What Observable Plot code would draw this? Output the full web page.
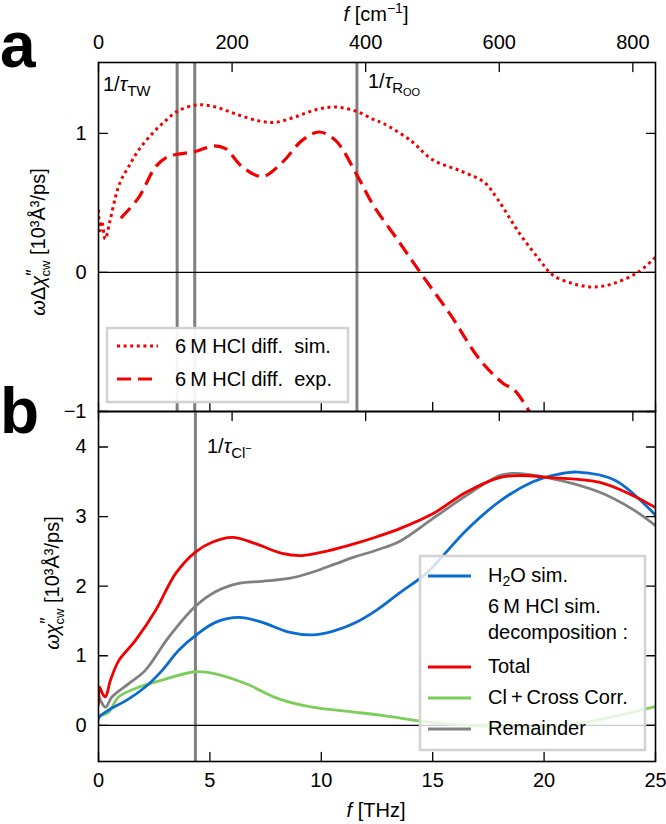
<!DOCTYPE html>
<html><head><meta charset="utf-8">
<script src="https://cdn.jsdelivr.net/npm/d3@7"></script>
<script src="https://cdn.jsdelivr.net/npm/@observablehq/plot@0.6"></script>
<style>
body{margin:0;background:#fff;}
#wrap{position:relative;width:666px;height:824px;font-family:"Liberation Sans",Arial,sans-serif;}
#wrap svg{position:absolute;left:0;overflow:visible;}
</style></head><body><div id="wrap"></div>
<script>
// ---- data ----
const CM_PER_THZ = 33.356;
const xTicksTHz = [0, 5, 10, 15, 20, 25];
const cmTicks = [0, 200, 400, 600, 800];
const yTicksA = [-1, 0, 1];
const yTicksB = [0, 1, 2, 3, 4];
const tauA = [3.53, 4.32, 11.6];   // THz, vertical markers panel a
const tauB = [4.35];               // THz, vertical marker panel b

// panel a  [f THz, value]
const simDiff = [[0,0.45],[0.07,0.30],[0.15,0.37],[0.3,0.24],[0.5,0.36],[0.76,0.54],[1.0,0.66],[1.35,0.76],[1.8,0.88],[2.42,1.0],[3.0,1.09],[3.55,1.16],[4.4,1.205],[5.25,1.19],[6.15,1.14],[7.2,1.09],[7.95,1.08],[8.85,1.12],[9.75,1.17],[10.6,1.19],[11.55,1.16],[12.35,1.10],[12.8,1.07],[14.0,0.95],[15.0,0.81],[16.25,0.73],[17.3,0.65],[17.9,0.53],[18.9,0.28],[19.8,0.09],[20.4,-0.02],[21.3,-0.08],[22.2,-0.105],[23.1,-0.08],[24.2,0],[25,0.11]];
const expDiff = [[1.0,0.39],[1.81,0.54],[2.56,0.76],[3.08,0.83],[3.53,0.85],[4.35,0.87],[5.17,0.91],[5.7,0.89],[6.45,0.76],[7.35,0.69],[8.24,0.79],[9.14,0.95],[9.89,1.01],[10.64,0.95],[11.6,0.70],[12.35,0.48],[13.4,0.24],[14.44,0],[15.78,-0.30],[17.13,-0.63],[18.18,-0.80],[18.63,-0.84],[19.3,-0.99],[19.5,-1.05]];

// panel b
const h2oSim = [[0,0.10],[0.09,0.14],[0.46,0.22],[1.36,0.38],[2.1,0.55],[2.86,0.79],[3.6,1.08],[4.35,1.29],[5.25,1.48],[6.3,1.55],[7.35,1.48],[8.54,1.34],[9.6,1.30],[10.5,1.35],[11.5,1.47],[12.5,1.66],[13.5,1.90],[14.7,2.18],[15.5,2.45],[16.5,2.80],[18.05,3.23],[19.5,3.50],[20.5,3.60],[21.5,3.64],[23.2,3.52],[25,3.02]];
const total = [[0,0.30],[0.05,0.55],[0.17,0.46],[0.31,0.41],[0.54,0.65],[0.91,0.93],[1.66,1.22],[2.56,1.65],[3.46,2.18],[4.35,2.49],[5.1,2.63],[6.0,2.70],[7.05,2.61],[8.24,2.47],[9.14,2.44],[10.34,2.51],[11.5,2.61],[12.5,2.71],[13.55,2.83],[15.0,3.04],[16.5,3.35],[18.0,3.56],[18.9,3.59],[20.3,3.56],[22.5,3.49],[24.0,3.30],[25,3.13]];
const clCross = [[0,-0.6],[0.02,0.12],[0.2,0.15],[0.46,0.19],[0.91,0.41],[1.66,0.53],[2.86,0.65],[4.35,0.77],[5.25,0.74],[6.6,0.60],[8.1,0.38],[9.6,0.26],[11.5,0.19],[12.8,0.14],[15,0.04],[17.3,-0.01],[19.5,-0.03],[21.8,0.04],[25,0.27]];
const remainder = [[0,0.45],[0.09,0.36],[0.31,0.26],[0.61,0.41],[1.36,0.60],[2.1,0.79],[3.16,1.27],[4.35,1.71],[5.25,1.92],[6.3,2.04],[7.35,2.07],[8.54,2.11],[9.6,2.20],[10.64,2.32],[11.5,2.42],[12.5,2.52],[13.55,2.65],[15.0,2.97],[16.5,3.30],[18.0,3.59],[18.6,3.62],[20.3,3.55],[22.5,3.35],[24,3.10],[25,2.87]];

// ---- styles ----
const RED = "#f20000", BLUE = "#0a6cd0", GREEN = "#7ccd5c", GRAY = "#808080";
const FONT = "'Liberation Sans', Arial, Helvetica, sans-serif";
const FS = 20;
const styA = {
  sim: {stroke: RED, strokeWidth: 3, strokeDasharray: "3 3.6", strokeLinecap: "butt"},
  exp: {stroke: RED, strokeWidth: 3.2, strokeDasharray: "14 7", strokeLinecap: "butt"}
};
const styB = {
  h2o: {stroke: BLUE, strokeWidth: 2.8},
  total: {stroke: RED, strokeWidth: 2.8},
  cl: {stroke: GREEN, strokeWidth: 2.8},
  rem: {stroke: GRAY, strokeWidth: 2.8}
};
const fmt = d => (d < 0 ? "\u2212" + Math.abs(d) : String(d));

const W = 666, ML = 98, MR = 11;
const xy = {x: d => d[0], y: d => d[1], curve: "catmull-rom", clip: true};
const tickOpts = {length: 9, anchor: "start", r: 0, strokeWidth: 1.3, stroke: "#000"};

function frameTicks(yTicks) {
  return [
    Plot.vector(xTicksTHz, {x: d => d, frameAnchor: "bottom", rotate: 0, ...tickOpts}),
    Plot.vector(cmTicks, {x: d => d / CM_PER_THZ, frameAnchor: "top", rotate: 180, ...tickOpts}),
    Plot.vector(yTicks, {y: d => d, frameAnchor: "left", rotate: 90, ...tickOpts}),
    Plot.vector(yTicks, {y: d => d, frameAnchor: "right", rotate: -90, ...tickOpts})
  ];
}
const plotStyle = {fontFamily: FONT, fontSize: FS + "px", color: "#000", background: "transparent"};

const pa = Plot.plot({
  width: W, height: 411, marginTop: 62, marginBottom: 0, marginLeft: ML, marginRight: MR,
  x: {domain: [0, 25], axis: null}, y: {domain: [-1, 1.51]},
  style: plotStyle,
  marks: [
    Plot.ruleX(tauA, {stroke: GRAY, strokeWidth: 3}),
    Plot.ruleY([0], {stroke: "#000", strokeWidth: 1.3}),
    Plot.line(simDiff, {...xy, ...styA.sim}),
    Plot.line(expDiff, {...xy, ...styA.exp}),
    Plot.frame({stroke: "#000", strokeWidth: 1.6}),
    ...frameTicks(yTicksA),
    Plot.axisY(yTicksA, {anchor: "left", tickSize: 0, tickPadding: 12, label: null, fontSize: FS, tickFormat: fmt}),
    Plot.text(cmTicks, {x: d => d / CM_PER_THZ, frameAnchor: "top", lineAnchor: "bottom", dy: -14, text: d => String(d), fontSize: FS})
  ]
});
pa.style.top = "0px";

const pb = Plot.plot({
  width: W, height: 413, marginTop: 0, marginBottom: 63, marginLeft: ML, marginRight: MR,
  x: {domain: [0, 25]}, y: {domain: [-0.52, 4.51]},
  style: plotStyle,
  marks: [
    Plot.ruleX(tauB, {stroke: GRAY, strokeWidth: 3}),
    Plot.ruleY([0], {stroke: "#000", strokeWidth: 1.3}),
    Plot.line(clCross, {...xy, ...styB.cl}),
    Plot.line(h2oSim, {...xy, ...styB.h2o}),
    Plot.line(remainder, {...xy, ...styB.rem}),
    Plot.line(total, {...xy, ...styB.total}),
    Plot.frame({stroke: "#000", strokeWidth: 1.6}),
    ...frameTicks(yTicksB),
    Plot.axisY(yTicksB, {anchor: "left", tickSize: 0, tickPadding: 12, label: null, fontSize: FS, tickFormat: fmt}),
    Plot.axisX(xTicksTHz, {anchor: "bottom", tickSize: 0, tickPadding: 11, label: null, fontSize: FS, tickFormat: fmt})
  ]
});
pb.style.top = "411px";

const wrap = document.getElementById("wrap");
wrap.appendChild(pa);
wrap.appendChild(pb);

// ---- overlay: labels, annotations, legends ----
const ov = d3.select(wrap).append("svg").attr("width", W).attr("height", 824)
  .style("top", "0px").style("pointer-events", "none")
  .attr("font-family", FONT).attr("font-size", FS).attr("fill", "#000");

function rich(g, x, y, parts, extra = {}) {
  const t = g.append("text").attr("x", x).attr("y", y);
  for (const k in extra) t.attr(k, extra[k]);
  let cur = 0;
  for (const p of parts) {
    const sh = p.shift || 0;
    const ts = t.append("tspan").attr("dy", sh - cur).text(p.t);
    if (p.size) ts.attr("font-size", p.size);
    if (p.italic) ts.attr("font-style", "italic");
    if (p.dx) ts.attr("dx", p.dx);
    cur = sh;
  }
  return t;
}

// panel letters
ov.append("text").attr("x", 0).attr("y", 67).attr("font-size", 64).attr("font-weight", "bold").text("a");
ov.append("text").attr("x", 0).attr("y", 433).attr("font-size", 64).attr("font-weight", "bold").text("b");

// axis titles
rich(ov, 376, 21, [{t: "f", italic: true}, {t: " [cm"}, {t: "\u22121", size: 14, shift: -8}, {t: "]", shift: 0}], {"text-anchor": "middle"});
rich(ov, 376, 817, [{t: "f", italic: true}, {t: " [THz]"}], {"text-anchor": "middle"});

const ytA = ov.append("g").attr("transform", "translate(45,242) rotate(-90)");
rich(ytA, 0, 0, [{t: "\u03c9", italic: true}, {t: "\u0394"}, {t: "\u03c7", italic: true}, {t: "\u2033", size: 18, shift: -6}, {t: "cw", size: 13, shift: 5, dx: -7}, {t: " [10\u00b3\u00c5\u00b3/ps]", shift: 0}], {"text-anchor": "middle"});
const ytB = ov.append("g").attr("transform", "translate(59,583) rotate(-90)");
rich(ytB, 0, 0, [{t: "\u03c9", italic: true}, {t: "\u03c7", italic: true}, {t: "\u2033", size: 18, shift: -6}, {t: "cw", size: 13, shift: 5, dx: -7}, {t: " [10\u00b3\u00c5\u00b3/ps]", shift: 0}], {"text-anchor": "middle"});

// tau annotations
rich(ov, 103, 91, [{t: "1/"}, {t: "\u03c4", italic: true}, {t: "TW", size: 15, shift: 5}]);
rich(ov, 368, 88, [{t: "1/"}, {t: "\u03c4", italic: true}, {t: "R", size: 15, shift: 5}, {t: "OO", size: 11, shift: 8}]);
rich(ov, 207, 453, [{t: "1/"}, {t: "\u03c4", italic: true}, {t: "Cl", size: 15, shift: 5}, {t: "\u2212", size: 11, shift: -1}]);

function sampleLine(g, x1, x2, y, sty) {
  g.append("line").attr("x1", x1).attr("x2", x2).attr("y1", y).attr("y2", y)
    .attr("stroke", sty.stroke).attr("stroke-width", sty.strokeWidth)
    .attr("stroke-dasharray", sty.strokeDasharray || null)
    .attr("stroke-linecap", sty.strokeLinecap || "butt");
}

// legend a
const la = ov.append("g");
la.append("rect").attr("x", 107).attr("y", 328).attr("width", 241).attr("height", 74)
  .attr("fill", "#fff").attr("fill-opacity", 0.92).attr("stroke", "#d2d2d2").attr("stroke-width", 2.5);
sampleLine(la, 117, 158, 346, styA.sim);
sampleLine(la, 117, 158, 379, styA.exp);
la.append("text").attr("x", 175).attr("y", 353).text("6\u2009M HCl diff.  sim.").attr("xml:space", "preserve");
la.append("text").attr("x", 175).attr("y", 386).text("6\u2009M HCl diff.  exp.").attr("xml:space", "preserve");

// legend b
const lb = ov.append("g");
lb.append("rect").attr("x", 420).attr("y", 556).attr("width", 225).attr("height", 194)
  .attr("fill", "#fff").attr("fill-opacity", 0.8).attr("stroke", "#d2d2d2").attr("stroke-width", 2.5);
sampleLine(lb, 428, 471, 576, styB.h2o);
rich(lb, 488, 582, [{t: "H"}, {t: "2", size: 14, shift: 4}, {t: "O sim.", shift: 0}]);
lb.append("text").attr("x", 488).attr("y", 613).text("6\u2009M HCl sim.");
lb.append("text").attr("x", 488).attr("y", 639).text("decomposition :");
sampleLine(lb, 428, 471, 667, styB.total);
lb.append("text").attr("x", 488).attr("y", 673).text("Total");
sampleLine(lb, 428, 471, 698, styB.cl);
lb.append("text").attr("x", 488).attr("y", 704).text("Cl\u2009+\u2009Cross Corr.");
sampleLine(lb, 428, 471, 729, styB.rem);
lb.append("text").attr("x", 488).attr("y", 735).text("Remainder");
</script></body></html>
